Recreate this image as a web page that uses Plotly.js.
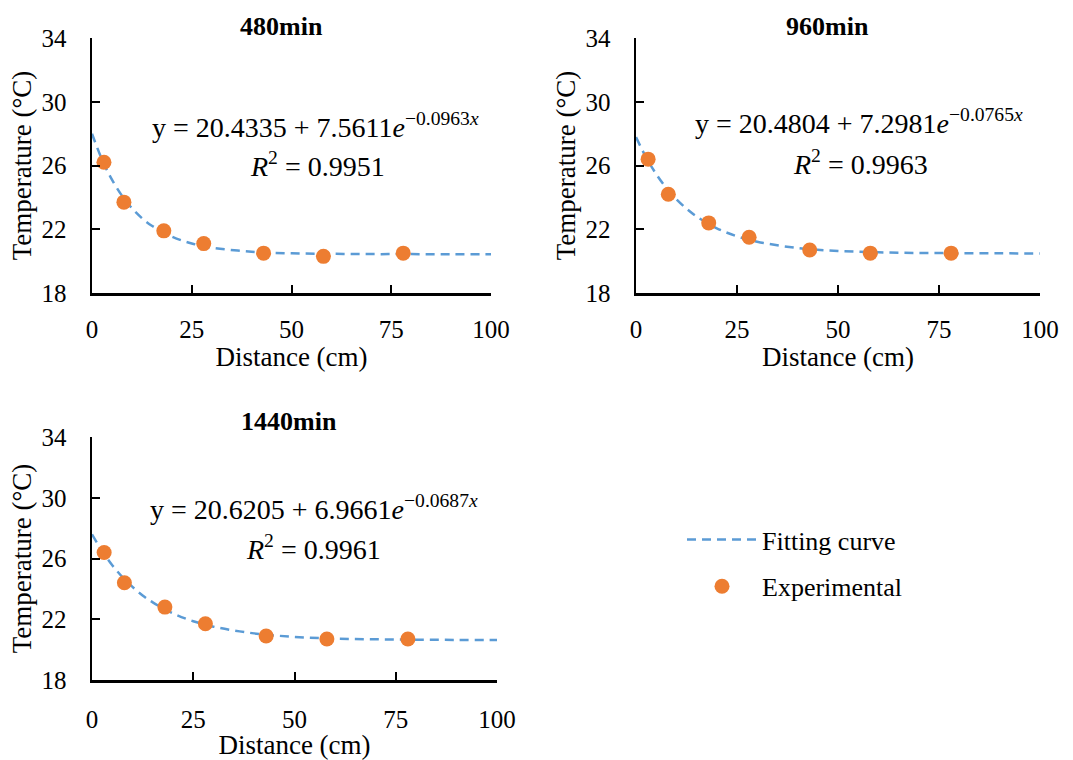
<!DOCTYPE html>
<html><head><meta charset="utf-8">
<script src="https://cdn.plot.ly/plotly-3.0.1.min.js"></script>
<style>html,body{margin:0;padding:0;background:#fff}#chart{width:1073px;height:760px}</style>
</head><body><div id="chart"></div>
<script>
const panelTitles = ['480min', '960min', '1440min'];
const distance = [3, 8, 18, 28, 43, 58, 78];
const temp480 = [26.2, 23.7, 21.9, 21.1, 20.5, 20.3, 20.5];
const temp960 = [26.4, 24.2, 22.4, 21.5, 20.7, 20.5, 20.5];
const temp1440 = [26.4, 24.4, 22.8, 21.7, 20.9, 20.7, 20.7];
const curveX = [0, 2.5, 5, 7.5, 10, 12.5, 15, 20, 25, 30, 40, 50, 60, 70, 80, 90, 100];
const fit480 = [27.99, 26.38, 25.11, 24.11, 23.32, 22.70, 22.22, 21.54, 21.11, 20.85, 20.59, 20.49, 20.46, 20.44, 20.44, 20.43, 20.43];
const fit960 = [27.78, 26.51, 25.46, 24.59, 23.88, 23.29, 22.80, 22.06, 21.56, 21.22, 20.82, 20.64, 20.55, 20.51, 20.50, 20.49, 20.48];
const fit1440 = [27.59, 26.49, 25.56, 24.78, 24.13, 23.57, 23.11, 22.38, 21.87, 21.51, 21.07, 20.84, 20.73, 20.68, 20.65, 20.64, 20.63];
const eqA = ['20.4335', '20.4804', '20.6205'];
const eqB = ['7.5611', '7.2981', '6.9661'];
const eqK = ['0.0963', '0.0765', '0.0687'];
const r2 = ['0.9951', '0.9963', '0.9961'];
const xTicks = [0, 25, 50, 75, 100];
const yTicks = [18, 22, 26, 30, 34];
const seriesNames = ['Fitting curve', 'Experimental'];

const W = 1073, H = 760;
const px = v => v / W, py = v => 1 - v / H;
const FONT = 'Liberation Serif, Times New Roman, serif';
const BLUE = '#5B9BD5', ORANGE = '#ED7D31';

const temps = [temp480, temp960, temp1440];
const fits = [fit480, fit960, fit1440];
// pixel boxes of the three plot areas [left, right, top, bottom]
const boxes = [[92, 491, 38, 293], [636, 1040, 38, 293], [92, 497, 437, 680]];
const titlePos = [[281, 27], [827, 27], [289, 422]];
const eqPos = [[[315, 125], [317, 165]], [[859, 122], [860, 162]], [[314, 507], [313, 547]]];

const traces = [];
const layout = {
  width: W, height: H,
  margin: {l: 0, r: 0, t: 0, b: 0},
  paper_bgcolor: '#fff', plot_bgcolor: '#fff',
  font: {family: FONT, color: '#000'},
  showlegend: true,
  legend: {x: px(682), y: py(516), xanchor: 'left', yanchor: 'top',
           font: {family: FONT, size: 26, color: '#000'}, itemwidth: 70,
           tracegroupgap: 10, bgcolor: 'rgba(0,0,0,0)'},
  annotations: []
};

for (let i = 0; i < 3; i++) {
  const s = i === 0 ? '' : String(i + 1);
  const [l, r, t, b] = boxes[i];
  traces.push({
    x: curveX, y: fits[i], xaxis: 'x' + s, yaxis: 'y' + s,
    type: 'scatter', mode: 'lines', name: seriesNames[0],
    line: {color: BLUE, width: 2.5, dash: '9px,6px', shape: 'spline'},
    showlegend: i === 0, legendgroup: 'fit', hoverinfo: 'x+y'
  });
  traces.push({
    x: distance, y: temps[i], xaxis: 'x' + s, yaxis: 'y' + s,
    type: 'scatter', mode: 'markers', name: seriesNames[1],
    marker: {color: ORANGE, size: 15},
    showlegend: i === 0, legendgroup: 'exp', cliponaxis: false
  });
  layout['xaxis' + s] = {
    domain: [px(l), px(r)], anchor: 'y' + s, range: [0, 100],
    tickvals: xTicks, ticks: 'inside', ticklen: 8, tickwidth: 2, tickcolor: '#000',
    showline: true, linecolor: '#000', linewidth: 2.5, showgrid: false, zeroline: false,
    ticklabelstandoff: i === 2 ? 15 : 12, tickfont: {family: FONT, size: 25, color: '#000'},
    title: {text: 'Distance (cm)', font: {family: FONT, size: 27, color: '#000'}, standoff: 0},
    fixedrange: true
  };
  layout['yaxis' + s] = {
    domain: [py(b), py(t)], anchor: 'x' + s, range: [18, 34],
    tickvals: yTicks, ticks: 'inside', ticklen: 8, tickwidth: 2, tickcolor: '#000',
    showline: true, linecolor: '#000', linewidth: 2.5, showgrid: false, zeroline: false,
    ticklabelstandoff: 18, tickfont: {family: FONT, size: 25, color: '#000'},
    title: {text: 'Temperature (°C)', font: {family: FONT, size: 27, color: '#000'}, standoff: 2},
    fixedrange: true
  };
  layout.annotations.push({
    xref: 'paper', yref: 'paper', x: px(titlePos[i][0]), y: py(titlePos[i][1]),
    xanchor: 'center', yanchor: 'middle', showarrow: false,
    text: '<b>' + panelTitles[i] + '</b>', font: {family: FONT, size: 26, color: '#000'}
  });
  layout.annotations.push({
    xref: 'paper', yref: 'paper', x: px(eqPos[i][0][0]), y: py(eqPos[i][0][1]),
    xanchor: 'center', yanchor: 'middle', showarrow: false,
    text: 'y = ' + eqA[i] + ' + ' + eqB[i] + '<i>e</i><sup>−' + eqK[i] + '<i>x</i></sup>',
    font: {family: FONT, size: 28, color: '#000'}
  });
  layout.annotations.push({
    xref: 'paper', yref: 'paper', x: px(eqPos[i][1][0]), y: py(eqPos[i][1][1]),
    xanchor: 'center', yanchor: 'middle', showarrow: false,
    text: '<i>R</i><sup>2</sup> = ' + r2[i],
    font: {family: FONT, size: 28, color: '#000'}
  });
}

Plotly.newPlot('chart', traces, layout, {displayModeBar: false, staticPlot: true});
</script>
</body></html>
